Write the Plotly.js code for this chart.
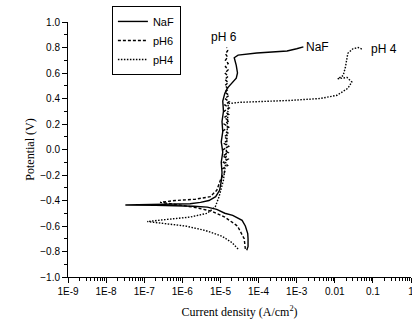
<!DOCTYPE html>
<html>
<head>
<meta charset="utf-8">
<script src="https://cdn.plot.ly/plotly-3.0.1.min.js"></script>
<style>html,body{margin:0;padding:0;background:#fff;}#chart{width:412px;height:323px;}</style>
</head>
<body>
<div id="chart"></div>
<script>
// Series: potential (V) vs current density (A/cm^2)
const nafPotential = [-0.79, -0.76, -0.70, -0.66, -0.60, -0.556, -0.517, -0.50, -0.47, -0.452, -0.445, -0.44, -0.437, -0.435, -0.432, -0.43, -0.425, -0.415, -0.40, -0.37, -0.32, -0.25, -0.18, -0.10, -0.02, 0.06, 0.14, 0.22, 0.30, 0.38, 0.44, 0.48, 0.52, 0.56, 0.60, 0.66, 0.72, 0.74, 0.757, 0.773, 0.79, 0.805];
const nafCurrent   = [4.9e-5, 5.3e-5, 5.3e-5, 5.2e-5, 4.5e-5, 3.7e-5, 2.1e-5, 1.3e-5, 8e-6, 4.5e-6, 2e-6, 7e-7, 2e-7, 3.2e-8, 2e-7, 7e-7, 1.6e-6, 3e-6, 5e-6, 7.5e-6, 9.5e-6, 1.05e-5, 1.1e-5, 1.05e-5, 1.15e-5, 1.05e-5, 1.15e-5, 1.1e-5, 1.2e-5, 1.15e-5, 1.3e-5, 1.5e-5, 2.0e-5, 2.6e-5, 2.8e-5, 2.6e-5, 2.3e-5, 2.9e-5, 9e-5, 5.6e-4, 1.0e-3, 1.5e-3];

const ph6Potential = [-0.78, -0.70, -0.60, -0.53, -0.485, -0.455, -0.43, -0.415, -0.40, -0.39, -0.37, -0.32, -0.24, -0.175,
  -0.15, -0.125, -0.10, -0.075, -0.05, -0.025, 0.0, 0.025, 0.05, 0.075, 0.10, 0.125, 0.15, 0.175, 0.20, 0.225, 0.25, 0.275, 0.30, 0.325,
  0.35, 0.375, 0.40, 0.425, 0.45, 0.475, 0.50, 0.525, 0.55, 0.575, 0.60, 0.625, 0.65, 0.675, 0.70, 0.725, 0.75, 0.775, 0.80];
const ph6Current   = [4.5e-5, 4.2e-5, 2.8e-5, 1.3e-5, 6e-6, 2.2e-6, 6.5e-7, 2.6e-7, 6.5e-7, 2.2e-6, 5.4e-6, 8e-6, 1.0e-5, 1.3e-5,
  1.15e-5, 1.55e-5, 1.2e-5, 1.6e-5, 1.15e-5, 1.6e-5, 1.2e-5, 1.65e-5, 1.2e-5, 1.6e-5, 1.25e-5, 1.65e-5, 1.2e-5, 1.65e-5, 1.25e-5, 1.7e-5, 1.25e-5, 1.65e-5, 1.25e-5, 1.7e-5,
  1.3e-5, 1.7e-5, 1.3e-5, 1.7e-5, 1.3e-5, 1.65e-5, 1.3e-5, 1.6e-5, 1.3e-5, 1.6e-5, 1.3e-5, 1.6e-5, 1.35e-5, 1.6e-5, 1.35e-5, 1.55e-5, 1.35e-5, 1.55e-5, 1.45e-5];

const ph4Potential = [-0.78, -0.73, -0.68, -0.635, -0.60, -0.58, -0.565, -0.55, -0.53, -0.50, -0.45, -0.37, -0.24, -0.085, 0.15, 0.30, 0.36, 0.37, 0.375, 0.385, 0.40, 0.425, 0.48, 0.53, 0.565, 0.555, 0.58, 0.645, 0.755, 0.79, 0.80, 0.785];
const ph4Current   = [2.9e-5, 2.0e-5, 1.1e-5, 4e-6, 1.2e-6, 3.5e-7, 1.2e-7, 3.5e-7, 1.6e-6, 4.5e-6, 7.3e-6, 9.2e-6, 1.2e-5, 1.4e-5, 1.5e-5, 1.55e-5, 1.6e-5, 3.2e-5, 1.1e-4, 6.8e-4, 4.1e-3, 0.0115, 0.022, 0.028, 0.021, 0.012, 0.0166, 0.019, 0.022, 0.03, 0.041, 0.054];

const seriesNames = ['NaF', 'pH6', 'pH4'];
const xTickVals = [1e-9, 1e-8, 1e-7, 1e-6, 1e-5, 1e-4, 1e-3, 0.01, 0.1, 1];
const xTickText = ['1E-9', '1E-8', '1E-7', '1E-6', '1E-5', '1E-4', '1E-3', '0.01', '0.1', '1'];

// curve labels
const labelText = ['pH 6', 'NaF', 'pH 4'];
const labelX = [1.23e-5, 1.6e-3, 0.08];
const labelY = [0.88, 0.805, 0.785];
const labelAnchor = ['center', 'left', 'left'];

const minorX = [];
for (let e = -9; e < 0; e++) for (let m = 2; m <= 9; m++) minorX.push(m * Math.pow(10, e));

const font = 'Liberation Sans, Arial, sans-serif';
const serif = 'Liberation Serif, Times New Roman, serif';

const traces = [
  {x: nafCurrent, y: nafPotential, name: seriesNames[0], mode: 'lines', line: {color: '#000', width: 1.4, dash: 'solid'}},
  {x: ph6Current, y: ph6Potential, name: seriesNames[1], mode: 'lines', line: {color: '#000', width: 1.4, dash: '3px,2px'}},
  {x: ph4Current, y: ph4Potential, name: seriesNames[2], mode: 'lines', line: {color: '#000', width: 1.4, dash: '1.5px,1.5px'}},
  {x: [], y: [], xaxis: 'x2', yaxis: 'y2', showlegend: false, hoverinfo: 'skip', mode: 'lines'}
];

const annotations = labelText.map((t, i) => ({
  x: Math.log10(labelX[i]), y: labelY[i], xref: 'x', yref: 'y', text: t, showarrow: false,
  xanchor: labelAnchor[i], yanchor: 'middle',
  font: {family: font, size: 12, color: '#000'}
}));

const layout = {
  width: 412, height: 323,
  margin: {l: 68, r: 1, t: 22, b: 46},
  paper_bgcolor: '#fff', plot_bgcolor: '#fff',
  showlegend: true,
  legend: {
    x: 0.128, y: 1.063, xanchor: 'left', yanchor: 'top',
    bgcolor: '#fff', bordercolor: '#000', borderwidth: 1,
    font: {family: font, size: 11, color: '#000'},
    tracegroupgap: 0
  },
  xaxis: {
    type: 'log', range: [-9, 0],
    tickmode: 'array', tickvals: xTickVals, ticktext: xTickText,
    ticks: 'outside', ticklen: 5, tickwidth: 1, tickcolor: '#000',
    ticklabeloverflow: 'allow',
    showline: true, linecolor: '#000', linewidth: 1, mirror: false,
    showgrid: false, zeroline: false,
    tickfont: {family: font, size: 10, color: '#000'},
    title: {text: 'Current density (A/cm<sup>2</sup>)', font: {family: serif, size: 12, color: '#000'}, standoff: 11},
    automargin: false
  },
  xaxis2: {
    type: 'log', range: [-9, 0], overlaying: 'x', anchor: 'y', side: 'bottom',
    tickmode: 'array', tickvals: minorX, ticks: 'outside', ticklen: 3, tickwidth: 1, tickcolor: '#000',
    showticklabels: false, showline: false, showgrid: false, zeroline: false, automargin: false
  },
  yaxis: {
    range: [-1, 1], dtick: 0.2, tick0: 0, tickformat: '.1f',
    ticks: 'outside', ticklen: 5, tickwidth: 1, tickcolor: '#000',
    showline: true, linecolor: '#000', linewidth: 1, mirror: false,
    showgrid: false, zeroline: false,
    tickfont: {family: font, size: 10, color: '#000'},
    title: {text: 'Potential (V)', font: {family: serif, size: 12, color: '#000'}, standoff: 3},
    automargin: false
  },
  yaxis2: {
    range: [-1, 1], overlaying: 'y', anchor: 'x', side: 'left',
    tickmode: 'linear', tick0: -0.9, dtick: 0.2, ticks: 'outside', ticklen: 3, tickwidth: 1, tickcolor: '#000',
    showticklabels: false, showline: false, showgrid: false, zeroline: false, automargin: false
  },
  annotations: annotations
};

Plotly.newPlot('chart', traces, layout, {displayModeBar: false, staticPlot: true});
</script>
</body>
</html>
